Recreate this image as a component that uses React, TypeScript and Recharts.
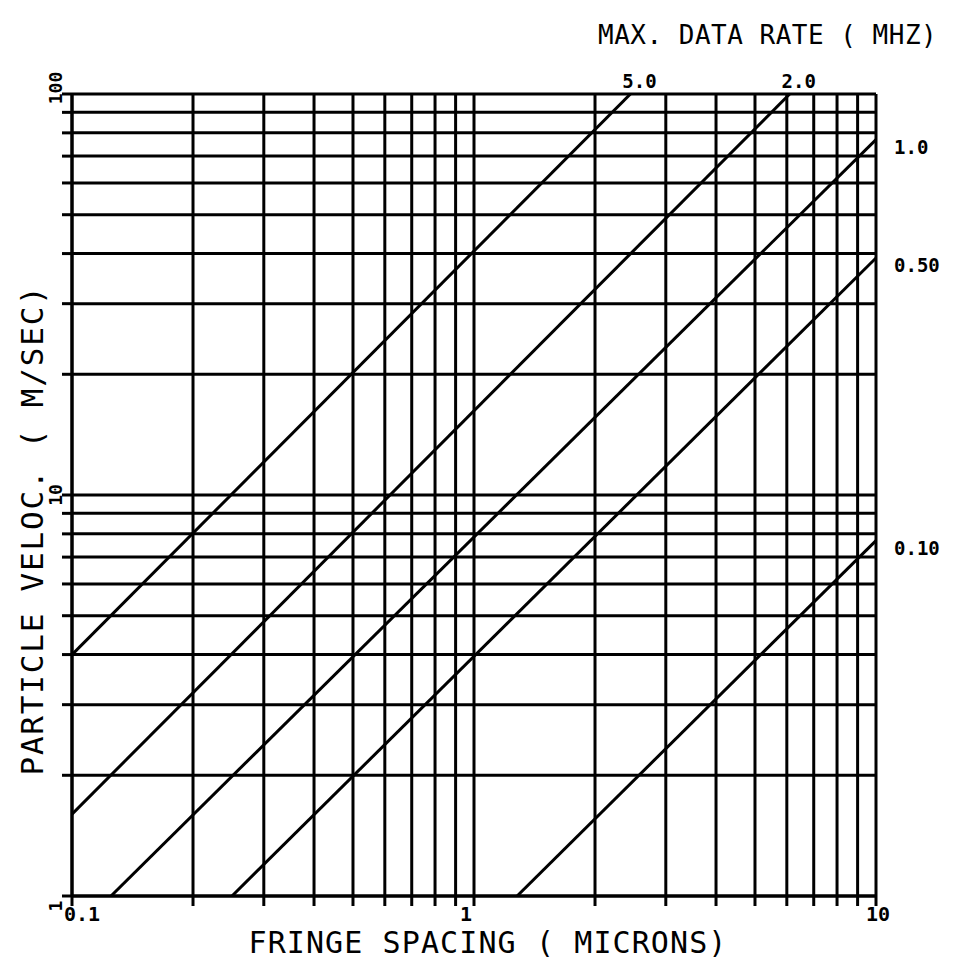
import React from "react";
import { LineChart, Line, XAxis, YAxis, CartesianGrid } from "recharts";

// fringe spacing grid (microns) and velocity grid (m/s), log cycles
const spacingGrid = [
  0.1, 0.2, 0.3, 0.4, 0.5, 0.6, 0.7, 0.8, 0.9,
  1, 2, 3, 4, 5, 6, 7, 8, 9, 10,
];
const velocGrid = [
  1, 2, 3, 4, 5, 6, 7, 8, 9,
  10, 20, 30, 40, 50, 60, 70, 80, 90, 100,
];
const spacingMajor = [0.1, 1, 10];
const spacingMajorText = ["0.1", "1", "10"];
const velocMajor = [1, 10, 100];
const velocMajorText = ["1", "10", "100"];

// constant data rate lines at their ends
const rateLabels = ["5.0", "2.0", "1.0", "0.50", "0.10"];
const spacingStart = [0.1, 0.1, 0.125, 0.25, 1.28];
const velocStart = [4, 1.6, 1, 1, 1];
const spacingEnd = [2.45, 6.1, 10, 10, 10];
const velocEnd = [100, 100, 77, 39, 7.7];

const FONT = "'DejaVu Sans Mono', monospace";

const rateLines = rateLabels.map((name, i) => ({
  name,
  data: [
    { d: spacingStart[i], v: velocStart[i] },
    { d: spacingEnd[i], v: velocEnd[i] },
  ],
}));

const XTick = ({ x, y, payload }: any) => {
  const k = spacingMajor.indexOf(payload.value);
  if (k < 0) return null;
  const dx = k === 0 ? 10 : k === 2 ? 2 : -8;
  return (
    <text
      x={x + dx}
      y={y + 15}
      textAnchor="middle"
      fontFamily={FONT}
      fontWeight="bold"
      fontSize={20}
      fill="#000"
    >
      {spacingMajorText[k]}
    </text>
  );
};

const YTick = ({ x, y, payload }: any) => {
  const k = velocMajor.indexOf(payload.value);
  if (k < 0) return null;
  const dy = k === 0 ? 10 : k === 2 ? -6 : 0;
  return (
    <text
      transform={`translate(${x},${y + dy}) rotate(-90)`}
      textAnchor="middle"
      fontFamily={FONT}
      fontWeight="bold"
      fontSize={18}
      fill="#000"
    >
      {velocMajorText[k]}
    </text>
  );
};

const YTitle = () => (
  <text
    transform="translate(43,530) rotate(-90)"
    textAnchor="middle"
    fontFamily={FONT}
    fontSize={31}
    letterSpacing={1.8}
    fill="#000"
  >
    PARTICLE VELOC. ( M/SEC)
  </text>
);

const endLabel = (name: string) => (props: any) => {
  const { x, y, index, value } = props;
  if (index !== 1) return null;
  const atTop = value >= 100;
  return (
    <text
      key={name}
      x={atTop ? x + 9 : x + 18}
      y={atTop ? y - 6 : y + 14}
      textAnchor={atTop ? "middle" : "start"}
      fontFamily={FONT}
      fontWeight="bold"
      fontSize={19}
      fill="#000"
    >
      {name}
    </text>
  );
};

const App = () => {
  return (
    <div
      style={{
        position: "absolute",
        left: 0,
        top: 0,
        width: 960,
        height: 972,
        background: "#fff",
      }}
    >
      <div
        style={{
          position: "absolute",
          left: 598,
          top: 20,
          fontFamily: FONT,
          fontSize: 26,
          letterSpacing: 0.5,
          whiteSpace: "pre",
          color: "#000",
          lineHeight: "30px",
        }}
      >
        MAX. DATA RATE ( MHZ)
      </div>
      <LineChart
        width={960}
        height={972}
        margin={{ top: 94, right: 84, left: 0, bottom: 0 }}
      >
        <CartesianGrid stroke="#000" strokeWidth={3} />
        <XAxis
          type="number"
          dataKey="d"
          scale="log"
          domain={[0.1, 10]}
          ticks={spacingGrid}
          allowDataOverflow
          interval={0}
          height={76}
          tickSize={10}
          tickMargin={0}
          axisLine={{ stroke: "#000", strokeWidth: 3 }}
          tickLine={{ stroke: "#000", strokeWidth: 3 }}
          tick={<XTick />}
          label={{
            value: "FRINGE SPACING ( MICRONS)",
            position: "insideBottom",
            offset: 19,
            fontFamily: FONT,
            fontSize: 30,
            letterSpacing: 1.1,
            fill: "#000",
            dx: 14,
          }}
        />
        <YAxis
          type="number"
          dataKey="v"
          scale="log"
          domain={[1, 100]}
          ticks={velocGrid}
          allowDataOverflow
          interval={0}
          width={72}
          tickSize={10}
          tickMargin={0}
          axisLine={{ stroke: "#000", strokeWidth: 3 }}
          tickLine={{ stroke: "#000", strokeWidth: 3 }}
          tick={<YTick />}
          label={{ content: <YTitle /> }}
        />
        {rateLines.map((s) => (
          <Line
            key={s.name}
            data={s.data}
            dataKey="v"
            type="linear"
            stroke="#000"
            strokeWidth={3}
            dot={false}
            activeDot={false}
            isAnimationActive={false}
            label={endLabel(s.name)}
          />
        ))}
      </LineChart>
    </div>
  );
};

export default App;
